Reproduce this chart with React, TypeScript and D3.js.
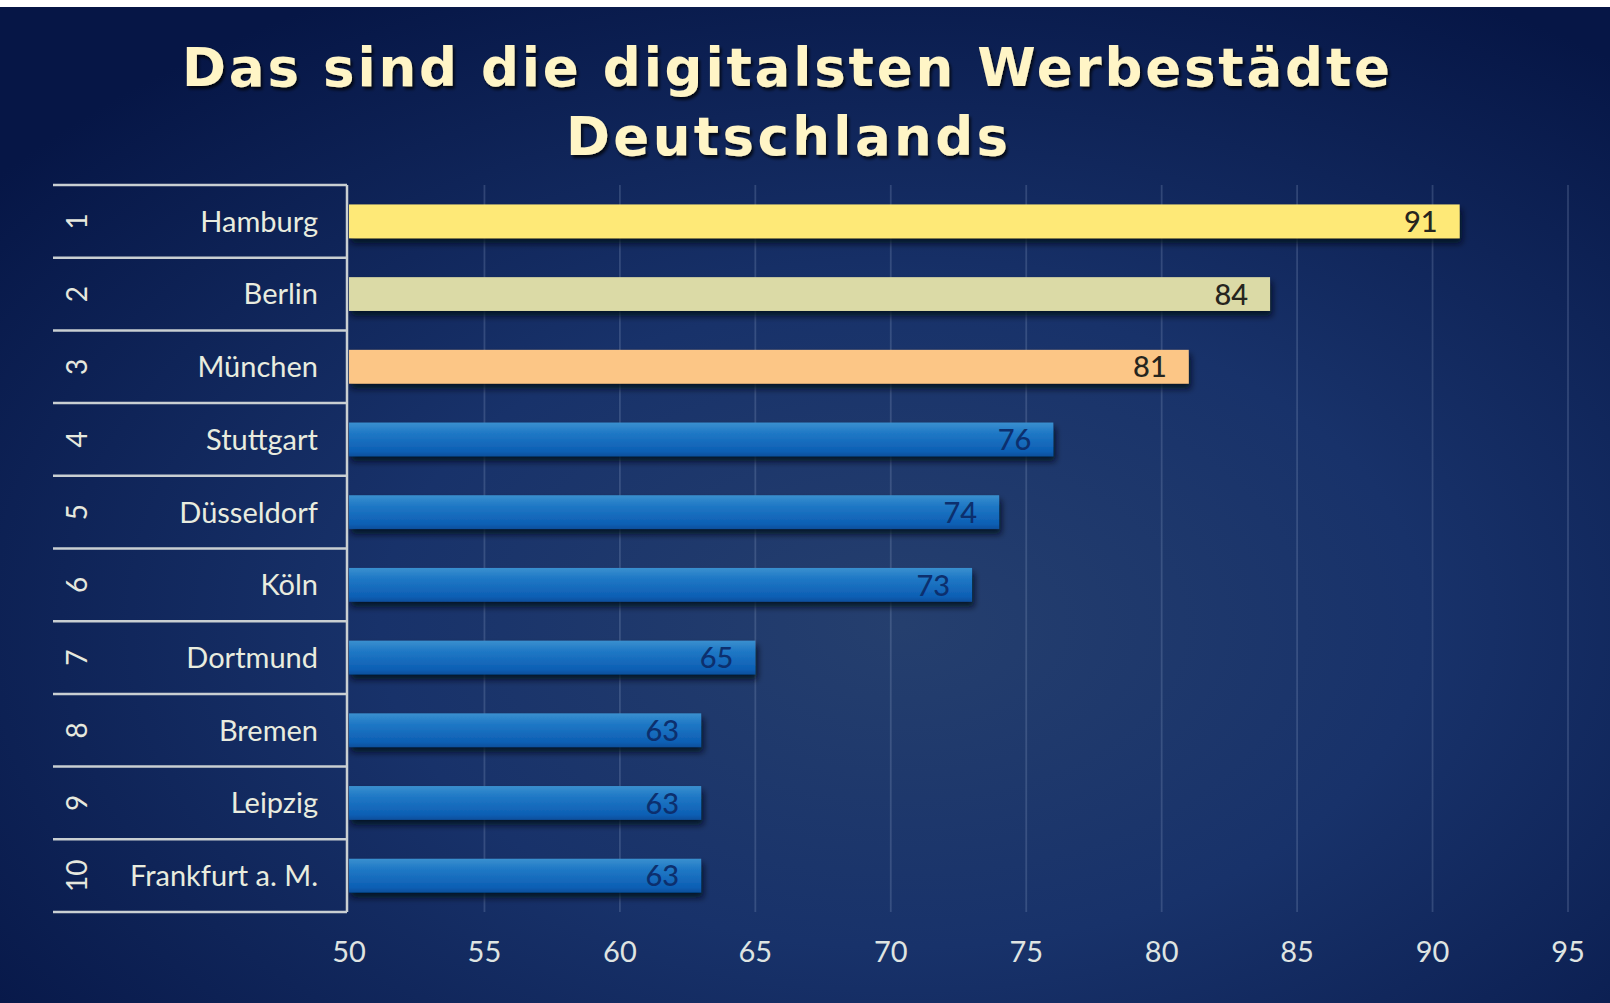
import React from "react";
import * as d3 from "d3";

// Ranking data
const ranks = ["1", "2", "3", "4", "5", "6", "7", "8", "9", "10"];
const cities = [
  "Hamburg",
  "Berlin",
  "München",
  "Stuttgart",
  "Düsseldorf",
  "Köln",
  "Dortmund",
  "Bremen",
  "Leipzig",
  "Frankfurt a. M.",
];
const scores = [91, 84, 81, 76, 74, 73, 65, 63, 63, 63];
const xTicks = [50, 55, 60, 65, 70, 75, 80, 85, 90, 95];
const titleLines = ["Das sind die digitalsten Werbestädte", "Deutschlands"];

// Podium colours for the first three places; the rest use the blue gradient
const podiumFills = ["#fee977", "#dbdaa6", "#fcc686"];

const W = 1610;
const H = 1003;
const tableLeft = 53;
const top = 185;
const bottom = 912;
const FONT = "Lato, 'Open Sans', sans-serif";

export default function App() {
  const x = d3.scaleLinear().domain([50, 95]).range([349, 1568]);
  const y = d3.scaleBand<string>().domain(ranks).range([top, bottom]).padding(0);
  const step = y.bandwidth();
  const barH = step * 0.465;

  const rows = ranks.map((r, i) => ({
    rank: r,
    city: cities[i],
    value: scores[i],
    cy: (y(r) ?? 0) + step / 2,
  }));

  return (
    <div style={{ position: "absolute", left: 0, top: 0, width: W, height: H }}>
      <svg width={W} height={H} style={{ display: "block" }}>
        <defs>
          <radialGradient id="bg" cx="0.56" cy="0.62" r="0.72">
            <stop offset="0" stopColor="#253f6e" />
            <stop offset="0.45" stopColor="#18326a" />
            <stop offset="1" stopColor="#061646" />
          </radialGradient>
          <linearGradient id="blueBar" x1="0" y1="0" x2="0" y2="1">
            <stop offset="0" stopColor="#3a90cf" />
            <stop offset="0.3" stopColor="#2079c6" />
            <stop offset="0.85" stopColor="#0d5fb4" />
            <stop offset="1" stopColor="#0a4f9c" />
          </linearGradient>
          <filter id="barShadow" x="-5%" y="-50%" width="110%" height="220%">
            <feDropShadow dx="2" dy="5" stdDeviation="3" floodColor="#000818" floodOpacity="0.85" />
          </filter>
          <filter id="titleShadow" x="-5%" y="-30%" width="110%" height="160%">
            <feDropShadow dx="2" dy="3" stdDeviation="1.6" floodColor="#000000" floodOpacity="0.75" />
          </filter>
        </defs>

        <rect x={0} y={0} width={W} height={H} fill="#ffffff" />
        <rect x={0} y={7} width={W} height={H - 7} fill="url(#bg)" />

        {/* Title */}
        <g filter="url(#titleShadow)" fill="#fff5c6" fontFamily="'DejaVu Sans', Verdana, sans-serif" fontWeight={700} fontSize={53}>
          <text x={182} y={86} textLength={1208} lengthAdjust="spacing">
            {titleLines[0]}
          </text>
          <text x={566} y={155} textLength={442} lengthAdjust="spacing">
            {titleLines[1]}
          </text>
        </g>

        {/* Vertical gridlines */}
        {xTicks.slice(1).map((t) => (
          <line
            key={t}
            x1={x(t)}
            x2={x(t)}
            y1={top}
            y2={bottom}
            stroke="#8ea3c6"
            strokeOpacity={0.25}
            strokeWidth={1.8}
          />
        ))}

        {/* Bars */}
        {rows.map((d, i) => (
          <rect
            key={d.rank}
            x={x(50)}
            y={d.cy - barH / 2}
            width={x(d.value) - x(50)}
            height={barH}
            fill={i < 3 ? podiumFills[i] : "url(#blueBar)"}
            filter="url(#barShadow)"
          />
        ))}

        {/* Value labels */}
        {rows.map((d, i) => (
          <text
            key={d.rank}
            x={x(d.value) - 22}
            y={d.cy}
            dy="0.37em"
            textAnchor="end"
            fontFamily={FONT}
            fontSize={29}
            fontWeight={500}
            fill={i < 3 ? "#26251e" : "#0c2f6e"}
          >
            {d.value}
          </text>
        ))}

        {/* Ranking table */}
        <g stroke="#c9cfd2" strokeWidth={2.5} fill="none">
          {ranks.map((r) => (
            <line key={r} x1={tableLeft} x2={x(50) - 2} y1={y(r)} y2={y(r)} />
          ))}
          <line x1={tableLeft} x2={x(50) - 2} y1={bottom} y2={bottom} />
          <line x1={x(50) - 2} x2={x(50) - 2} y1={top} y2={bottom} />
        </g>
        {rows.map((d) => (
          <g key={d.rank}>
            <text
              transform={`translate(77,${d.cy}) rotate(-90)`}
              textAnchor="middle"
              dy="0.36em"
              fontFamily={FONT}
              fontSize={28}
              fill="#e6e8de"
            >
              {d.rank}
            </text>
            <text
              x={318}
              y={d.cy}
              dy="0.36em"
              textAnchor="end"
              fontFamily={FONT}
              fontSize={29}
              fill="#e9ecdf"
            >
              {d.city}
            </text>
          </g>
        ))}

        {/* X axis labels */}
        {xTicks.map((t) => (
          <text
            key={t}
            x={x(t)}
            y={962}
            textAnchor="middle"
            fontFamily={FONT}
            fontSize={29}
            fill="#dfe4e2"
          >
            {t}
          </text>
        ))}
      </svg>
    </div>
  );
}
